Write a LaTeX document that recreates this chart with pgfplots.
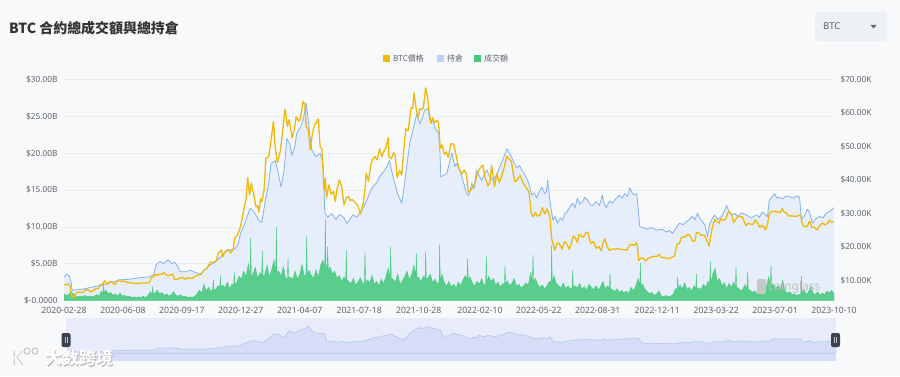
\documentclass[border=0pt]{standalone}
\usepackage{fontspec}
\setmainfont{Noto Sans}
\newfontfamily\cjk{Noto Sans CJK TC}
\newfontfamily\cjksc{Noto Sans CJK SC}
\usepackage{pgfplots}
\pgfplotsset{compat=1.18}
\usepackage{pgfplotstable}
\definecolor{bgc}{HTML}{F8F9FA}
\definecolor{btcy}{HTML}{F0B90B}
\definecolor{oiline}{HTML}{82B2F0}
\definecolor{oifill}{HTML}{E5EEFA}
\definecolor{oileg}{HTML}{BDD0F5}
\definecolor{volg}{HTML}{45C97D}
\definecolor{gridc}{HTML}{ECEEF1}
\definecolor{tickc}{HTML}{5F6368}
\definecolor{sliderbg}{HTML}{E8ECFA}
\definecolor{sliderarea}{HTML}{D6DEF7}
\definecolor{sliderline}{HTML}{B8C5EE}
\definecolor{handlec}{HTML}{3C4350}
\definecolor{ddbg}{HTML}{EDF1F5}
\begin{document}
\pgfplotstableread[row sep=\\]{x y\\
0 3.2\\5 3.6\\9 3.3\\12 2.6\\14 1.4\\24 1.45\\36 1.6\\53 1.9\\67 2.1\\79 2.4\\96 2.8\\113 2.9\\130 3.1\\147 3.2\\154 3.6\\158 4.9\\165 5.3\\171 5.0\\178 5.5\\185 5.0\\190 5.2\\195 4.6\\199 3.9\\207 3.9\\216 4.1\\225 3.8\\233 3.6\\242 4.2\\250 4.8\\259 5.2\\267 5.8\\276 6.6\\285 6.9\\293 7.0\\298 7.6\\303 9.2\\310 10.5\\319 12.5\\326 12.0\\333 11.0\\339 10.6\\345 13.5\\350 15.5\\355 18.6\\362 19.0\\367 17.5\\372 15.4\\377 17.5\\382 22.0\\387 21.3\\391 19.7\\396 21.0\\399 22.7\\405 23.5\\410 24.5\\415 26.8\\418 24.9\\422 22.0\\425 20.4\\432 19.5\\439 20.0\\444 18.6\\446 15.0\\447 11.9\\452 11.3\\459 11.8\\466 11.0\\473 11.7\\480 11.2\\485 10.5\\490 11.0\\495 11.6\\502 11.3\\507 11.9\\514 12.8\\519 13.6\\524 14.6\\529 15.4\\536 16.0\\541 16.8\\548 17.5\\553 18.1\\558 19.0\\564 16.8\\569 15.4\\572 14.5\\579 13.2\\584 16.0\\588 18.6\\593 21.5\\598 23.1\\605 25.4\\610 24.0\\615 24.9\\618 25.8\\624 26.1\\627 24.5\\632 24.5\\636 23.4\\642 22.7\\644 21.0\\646 16.8\\651 17.0\\656 17.2\\661 18.8\\665 20.0\\670 18.2\\673 18.6\\678 17.7\\682 16.8\\687 15.4\\690 14.5\\694 14.3\\699 15.9\\703 15.2\\707 17.7\\712 16.9\\716 16.3\\721 17.2\\725 17.7\\730 16.8\\735 16.3\\741 17.0\\747 18.1\\754 19.5\\759 20.6\\764 20.0\\767 19.5\\772 18.6\\776 18.0\\781 18.3\\786 17.5\\790 17.0\\795 16.3\\802 14.3\\806 14.6\\810 13.9\\815 14.8\\819 15.4\\824 14.5\\827 14.8\\829 16.3\\833 13.6\\838 10.9\\842 11.4\\846 10.5\\851 11.2\\855 10.9\\858 11.8\\862 12.0\\867 12.7\\872 13.2\\876 12.6\\880 13.9\\884 13.1\\889 13.4\\893 14.0\\898 13.6\\902 13.0\\906 12.9\\912 13.4\\918 12.9\\923 14.3\\926 13.1\\930 12.6\\935 13.5\\940 13.2\\946 13.8\\952 14.3\\957 13.9\\961 14.5\\966 14.1\\970 15.3\\974 14.6\\978 14.3\\982 14.5\\987 10.0\\993 9.9\\999 9.7\\1008 9.9\\1016 9.55\\1025 9.7\\1033 9.3\\1038 9.5\\1043 9.1\\1049 9.8\\1055 10.5\\1061 10.3\\1067 10.7\\1072 11.0\\1077 11.4\\1082 11.0\\1086 11.9\\1090 11.1\\1095 10.7\\1099 10.2\\1103 8.7\\1107 10.4\\1110 10.9\\1115 11.6\\1121 11.0\\1127 11.4\\1132 12.1\\1136 12.9\\1140 12.0\\1144 11.6\\1150 11.8\\1155 11.4\\1162 11.9\\1170 11.6\\1178 11.2\\1187 11.6\\1192 11.3\\1197 12.0\\1202 11.7\\1206 11.4\\1209 13.6\\1214 14.1\\1218 14.5\\1222 13.9\\1226 14.0\\1232 13.8\\1238 14.2\\1244 14.1\\1250 13.9\\1256 14.2\\1261 14.0\\1264 10.9\\1270 11.6\\1274 12.4\\1278 12.0\\1283 10.5\\1289 11.1\\1295 11.4\\1301 11.2\\1307 11.9\\1313 12.1\\1320 12.6\\
}\oitable
\pgfplotstableread[row sep=\\]{x y\\
0 8.7\\4 8.8\\8 8.9\\11 7.9\\13 4.9\\15 5.4\\17 5.0\\21 6.2\\25 6.5\\32 6.4\\38 7.3\\43 6.9\\47 6.6\\55 7.5\\60 7.7\\62 8.7\\66 8.9\\70 9.9\\74 8.8\\78 9.7\\82 9.5\\87 8.8\\94 10.2\\98 9.6\\103 9.8\\108 9.4\\113 9.3\\118 9.1\\123 9.15\\128 9.1\\133 9.25\\138 9.2\\143 9.2\\147 9.5\\150 11.0\\154 11.1\\156 11.8\\160 11.5\\164 11.9\\168 11.8\\171 12.3\\175 11.7\\179 11.4\\183 11.7\\186 11.9\\190 10.2\\195 10.4\\200 10.8\\204 10.9\\208 10.25\\212 10.8\\216 10.6\\221 10.7\\225 11.3\\230 11.5\\235 11.9\\240 13.1\\245 13.6\\251 15.5\\256 15.3\\261 16.0\\265 18.3\\270 19.1\\272 17.1\\277 18.8\\282 19.2\\286 18.2\\290 19.4\\293 22.8\\297 23.4\\300 24.7\\303 26.5\\306 29.0\\309 32.0\\312 34.0\\315 40.7\\318 35.5\\321 39.0\\325 35.8\\329 32.0\\332 32.3\\334 30.4\\337 34.3\\339 33.5\\343 37.0\\346 46.4\\351 47.0\\355 52.0\\359 57.5\\362 49.7\\366 45.2\\371 48.8\\375 54.8\\379 61.2\\383 56.0\\386 58.0\\391 52.5\\395 55.1\\398 58.9\\402 57.6\\405 58.0\\410 63.5\\413 62.5\\415 56.0\\419 55.0\\422 49.0\\426 54.0\\430 56.6\\433 57.2\\436 58.2\\439 50.0\\442 49.3\\446 37.0\\448 40.5\\450 34.7\\454 38.5\\458 35.7\\462 36.6\\465 33.5\\468 37.3\\472 40.0\\476 38.1\\480 32.5\\484 34.7\\488 35.0\\491 33.8\\494 34.2\\498 33.5\\502 32.8\\505 31.7\\508 29.8\\512 32.3\\515 35.4\\518 42.0\\522 39.6\\526 44.6\\529 46.2\\533 47.0\\537 46.0\\541 49.3\\545 47.0\\549 48.8\\552 49.9\\556 52.7\\557 46.8\\561 46.3\\565 48.1\\568 47.2\\571 40.7\\575 42.8\\579 41.5\\582 48.2\\586 55.3\\590 54.7\\595 61.6\\598 61.5\\600 66.0\\603 62.0\\607 58.5\\610 61.3\\612 61.0\\616 61.5\\620 67.5\\623 64.8\\626 60.1\\629 56.9\\632 58.6\\635 57.1\\639 57.8\\642 57.2\\645 49.4\\648 50.5\\652 47.6\\655 48.4\\659 46.7\\663 50.8\\668 50.7\\672 47.5\\677 43.5\\682 41.8\\686 43.0\\690 41.7\\693 36.3\\696 36.7\\700 37.7\\704 38.7\\708 41.6\\713 43.5\\718 44.5\\722 40.5\\727 38.3\\730 39.1\\733 44.4\\738 38.0\\742 41.9\\746 39.3\\750 41.0\\755 44.0\\759 47.1\\763 46.3\\767 45.5\\770 42.2\\773 39.5\\777 40.0\\782 41.4\\786 39.5\\789 38.6\\792 37.7\\797 36.5\\801 30.1\\804 29.0\\808 30.3\\812 29.2\\816 29.5\\820 31.7\\824 29.8\\828 31.4\\833 29.1\\836 22.4\\839 20.4\\841 19.0\\845 21.0\\848 21.2\\852 20.1\\854 19.3\\858 21.6\\862 20.9\\866 19.3\\870 21.2\\873 23.2\\877 22.6\\880 21.3\\883 23.8\\887 23.2\\891 22.9\\895 24.3\\898 24.4\\903 21.1\\908 21.6\\912 19.6\\917 20.1\\921 18.8\\924 21.3\\927 22.4\\931 20.2\\935 18.9\\939 19.3\\943 19.4\\946 19.3\\950 19.5\\955 19.2\\960 19.2\\965 19.0\\970 20.6\\974 20.8\\978 20.4\\981 21.3\\983 20.2\\985 15.9\\989 16.7\\993 16.6\\997 15.8\\1001 16.5\\1007 17.0\\1011 17.2\\1016 17.1\\1020 17.8\\1024 16.8\\1030 16.8\\1037 16.5\\1042 16.9\\1047 17.4\\1051 20.9\\1055 21.0\\1058 22.7\\1062 23.0\\1065 23.0\\1069 23.7\\1073 23.4\\1078 21.6\\1082 22.0\\1084 24.3\\1088 24.2\\1092 23.5\\1097 23.6\\1101 22.4\\1106 20.2\\1110 24.7\\1113 26.9\\1116 28.2\\1119 27.5\\1123 27.1\\1126 28.4\\1130 28.0\\1134 28.2\\1138 30.2\\1141 30.5\\1145 29.4\\1148 27.3\\1152 28.3\\1156 29.3\\1160 28.9\\1163 29.0\\1166 27.6\\1169 26.3\\1173 27.1\\1177 26.8\\1181 26.7\\1185 28.0\\1189 27.1\\1193 25.8\\1197 26.5\\1200 25.9\\1203 25.1\\1206 26.8\\1209 30.0\\1213 30.6\\1216 30.5\\1220 30.6\\1224 30.4\\1228 30.3\\1231 31.4\\1235 30.3\\1239 30.1\\1242 29.2\\1246 29.3\\1250 29.2\\1255 29.1\\1259 29.4\\1263 29.4\\1266 26.6\\1270 26.0\\1274 26.1\\1278 27.7\\1282 25.9\\1286 25.9\\1291 25.1\\1295 26.2\\1300 27.2\\1304 26.6\\1308 26.9\\1312 28.0\\1316 27.4\\1320 27.6\\
}\pricetable
\pgfplotstableread[row sep=\\]{x y\\
0 0.9\\4 0.7\\8 0.8\\12 1.2\\16 0.9\\20 0.6\\24 0.5\\28 0.6\\32 0.5\\36 0.7\\40 0.5\\44 0.6\\48 0.5\\52 0.6\\56 0.8\\60 0.6\\64 1.3\\67 1.0\\68 2.2\\69 1.0\\72 1.4\\76 0.9\\80 1.1\\84 0.7\\88 0.9\\92 0.6\\96 1.0\\100 0.6\\104 0.7\\108 0.5\\112 0.6\\116 0.4\\120 0.5\\124 0.4\\128 0.5\\132 0.4\\136 0.6\\140 0.4\\144 0.7\\148 1.2\\151 0.9\\152 1.9\\153 0.9\\156 1.0\\160 1.4\\164 0.9\\168 1.1\\172 0.7\\176 0.9\\180 0.6\\184 0.8\\188 1.2\\192 0.7\\196 0.6\\200 0.8\\204 0.5\\208 0.6\\212 0.4\\216 0.5\\220 0.4\\224 0.6\\228 0.9\\232 1.4\\236 1.0\\240 2.2\\244 1.3\\248 1.8\\252 1.2\\255 1.5\\256 2.8\\257 1.5\\260 1.5\\264 2.0\\267 1.8\\268 3.4\\269 1.8\\272 2.1\\276 1.7\\280 2.5\\284 1.6\\288 2.2\\291 2.2\\292 3.8\\293 2.2\\296 2.4\\300 3.3\\304 2.9\\308 4.0\\312 3.2\\316 5.0\\319 3.2\\320 8.5\\321 3.2\\324 3.6\\328 4.5\\332 3.0\\336 3.8\\339 3.3\\340 6.8\\341 3.3\\344 3.5\\348 4.8\\352 3.2\\356 4.2\\360 5.5\\363 3.8\\364 10.0\\365 3.8\\368 4.0\\372 3.3\\376 4.6\\380 3.0\\383 3.0\\384 5.8\\385 3.0\\388 3.2\\392 2.8\\396 4.0\\400 2.9\\404 3.5\\408 4.9\\412 3.3\\415 3.5\\416 8.7\\417 3.5\\420 4.1\\424 3.4\\428 3.0\\432 4.2\\436 3.1\\440 4.8\\444 5.5\\447 4.5\\448 11.0\\449 5.0\\451 4.0\\452 7.3\\453 4.0\\456 4.6\\460 3.6\\464 4.0\\468 3.0\\472 3.4\\476 2.6\\480 3.2\\483 2.8\\484 6.8\\485 2.8\\488 2.6\\492 2.3\\496 3.0\\500 2.1\\504 2.5\\508 3.1\\512 2.3\\515 2.4\\516 6.6\\517 2.4\\520 2.8\\524 2.4\\528 3.4\\532 2.2\\536 2.6\\540 2.0\\544 2.9\\548 2.3\\552 3.3\\556 4.4\\559 3.0\\560 7.3\\561 3.0\\564 2.9\\568 2.5\\572 3.6\\576 2.2\\580 2.7\\584 3.2\\588 4.0\\592 2.8\\596 3.5\\600 4.8\\603 3.2\\604 6.4\\605 3.2\\608 3.1\\612 2.6\\616 3.3\\619 3.0\\620 6.6\\621 3.0\\624 3.0\\628 3.6\\632 2.4\\636 2.9\\640 2.2\\643 2.6\\644 7.6\\645 2.6\\648 3.6\\652 2.4\\656 2.0\\660 2.6\\664 1.8\\668 2.2\\672 1.7\\676 2.5\\680 2.0\\684 2.8\\688 3.4\\691 2.8\\692 5.7\\693 2.8\\696 3.2\\700 2.4\\704 1.9\\708 2.6\\712 2.2\\716 3.0\\720 2.0\\723 2.4\\724 6.0\\725 2.4\\728 3.3\\732 2.6\\736 3.0\\740 2.1\\744 2.5\\748 1.8\\752 2.3\\755 2.2\\756 4.7\\757 2.2\\760 2.7\\764 2.0\\768 2.4\\772 3.0\\776 1.9\\780 2.2\\784 1.7\\788 2.0\\792 2.4\\796 2.1\\800 3.8\\803 2.5\\804 6.2\\805 2.5\\808 3.0\\812 2.2\\816 1.8\\820 2.1\\824 1.6\\828 2.0\\832 2.6\\835 2.4\\836 7.5\\837 2.4\\840 3.4\\844 2.3\\848 2.0\\852 1.7\\856 2.4\\860 1.6\\864 2.0\\868 1.5\\871 1.8\\872 4.1\\873 1.8\\876 2.0\\880 1.7\\884 2.3\\888 1.5\\892 1.9\\896 1.4\\900 2.2\\904 1.8\\908 1.5\\912 2.0\\916 1.4\\920 1.9\\924 2.6\\928 1.6\\932 2.0\\935 1.6\\936 3.7\\937 1.6\\940 1.5\\944 1.2\\948 1.6\\952 1.1\\956 1.4\\960 1.0\\964 1.3\\968 0.9\\972 1.8\\976 1.3\\980 1.9\\984 3.0\\987 2.0\\988 5.1\\989 2.0\\992 2.2\\996 1.5\\1000 1.2\\1004 0.9\\1008 1.1\\1012 0.7\\1016 0.9\\1020 1.3\\1024 0.6\\1028 0.5\\1032 0.7\\1036 0.5\\1040 0.6\\1044 0.8\\1048 1.6\\1051 1.5\\1052 3.2\\1053 1.5\\1056 2.1\\1060 1.6\\1064 2.4\\1068 1.5\\1072 1.8\\1076 1.3\\1080 2.0\\1083 1.6\\1084 3.6\\1085 1.6\\1088 1.7\\1092 1.5\\1096 2.2\\1100 1.8\\1104 2.6\\1107 2.4\\1108 5.3\\1109 2.4\\1112 3.5\\1116 4.4\\1120 2.6\\1124 3.0\\1128 2.0\\1132 2.4\\1136 1.6\\1140 2.3\\1144 1.8\\1148 2.5\\1151 1.8\\1152 4.6\\1153 1.8\\1156 1.7\\1160 1.3\\1164 1.6\\1168 2.2\\1171 1.5\\1172 3.9\\1173 1.5\\1176 1.4\\1180 1.1\\1184 1.3\\1188 0.9\\1192 1.2\\1196 1.0\\1200 1.4\\1204 1.8\\1208 3.2\\1211 2.0\\1212 4.8\\1213 2.0\\1216 2.2\\1220 1.6\\1224 2.0\\1228 1.4\\1232 2.8\\1236 1.3\\1240 1.0\\1244 1.2\\1248 0.8\\1252 0.9\\1256 0.7\\1260 0.8\\1263 0.9\\1264 3.3\\1265 0.9\\1268 1.5\\1272 0.9\\1276 1.1\\1280 2.0\\1284 1.0\\1288 0.8\\1292 1.2\\1296 0.7\\1300 1.0\\1304 0.8\\1308 1.3\\1312 1.0\\1316 1.4\\1320 0.9\\
}\voltable
\begin{tikzpicture}
\begin{scope}[x=1bp,y=1bp]
\path[use as bounding box, fill=bgc] (0,0) rectangle (900,376);
% title
\node[anchor=west, inner sep=0, font=\cjk\bfseries\fontsize{14}{15}\selectfont, text=black!80] at (9,348) {BTC 合約總成交額與總持倉};
% dropdown
\fill[ddbg, rounded corners=3bp] (815,335) rectangle (887,364);
\node[anchor=west, inner sep=0, font=\fontsize{9.5}{10}\selectfont, text=tickc] at (823,349.5) {BTC};
\fill[black!60] (870.5,351) -- (876.5,351) -- (873.5,347.5) -- cycle;
% legend
\fill[btcy] (383,314) rectangle (390,321);
\node[anchor=west, inner sep=0, font=\cjk\fontsize{8}{9}\selectfont, text=tickc] at (393,317.5) {BTC價格};
\fill[oileg] (437,314) rectangle (444,321);
\node[anchor=west, inner sep=0, font=\cjk\fontsize{8}{9}\selectfont, text=tickc] at (447,317.5) {持倉};
\fill[volg] (474,314) rectangle (481,321);
\node[anchor=west, inner sep=0, font=\cjk\fontsize{8}{9}\selectfont, text=tickc] at (484,317.5) {成交額};
% slider background
\fill[sliderbg] (66,15) rectangle (836,58);
\fill[sliderarea] (66,15) rectangle (836,22.8);
\end{scope}
% main left axis
\begin{axis}[
 at={(64bp,75.5bp)}, anchor=south west, scale only axis,
 width=770bp, height=221bp,
 xmin=0, xmax=1320, ymin=0, ymax=30,
 axis line style={draw=none}, tick style={draw=none},
 xtick={0,101,202,303,404,506,608,713,814,915,1017,1118,1219,1320},
 xticklabels={2020-02-28,2020-06-08,2020-09-17,2020-12-27,2021-04-07,2021-07-18,2021-10-28,2022-02-10,2022-05-22,2022-08-31,2022-12-11,2023-03-22,2023-07-01,2023-10-10},
 ytick={0,5,10,15,20,25,30},
 yticklabels={\$-0.0000,\$5.00B,\$10.00B,\$15.00B,\$20.00B,\$25.00B,\$30.00B},
 ymajorgrids, grid style={gridc, line width=0.5bp},
 xticklabel style={font=\fontsize{8.7}{10}\selectfont, text=tickc, yshift=-3.5bp},
 yticklabel style={font=\fontsize{8.3}{10}\selectfont, text=tickc, xshift=-3bp},
]
\addplot[draw=none, fill=oifill] table {\oitable} \closedcycle;
\addplot[volg, line width=0.35bp, line join=miter, fill=volg, fill opacity=0.88] table {\voltable} \closedcycle;
\addplot[oiline, line width=0.8bp, line join=round] table {\oitable};
\end{axis}
% right axis
\begin{axis}[
 at={(64bp,75.5bp)}, anchor=south west, scale only axis,
 width=770bp, height=221bp,
 xmin=0, xmax=1320, ymin=4.0, ymax=70,
 axis x line=none, axis y line*=right, axis line style={draw=none}, tick style={draw=none},
 ytick={10,20,30,40,50,60,70},
 yticklabels={\$10.00K,\$20.00K,\$30.00K,\$40.00K,\$50.00K,\$60.00K,\$70.00K},
 yticklabel style={font=\fontsize{8.3}{10}\selectfont, text=tickc, xshift=3bp},
]
\addplot[btcy, line width=1.3bp, line join=round] table {\pricetable};
\end{axis}
% slider axis
\begin{axis}[
 at={(66bp,15bp)}, anchor=south west, scale only axis,
 width=770bp, height=43bp,
 xmin=0, xmax=1320, ymin=-7.6, ymax=34.7,
 axis lines=none, xtick=\empty, ytick=\empty,
]
\addplot[sliderline, line width=0.6bp, fill=sliderarea] table {\oitable} \closedcycle;
\end{axis}
\begin{scope}[x=1bp,y=1bp]
% coinglass watermark
\fill[black!22, rounded corners=2bp] (757,82) rectangle (766,97);
\node[anchor=west, inner sep=0, font=\fontsize{12}{12}\selectfont, text=black!25] at (768,89) {coinglass};
% handles
\fill[handlec, rounded corners=2bp] (61.5,29) rectangle (70.5,43);
\draw[white!75!black, line width=0.5bp] (65,33) -- (65,39) (67,33) -- (67,39);
\fill[handlec, rounded corners=2bp] (831,29) rectangle (840,43);
\draw[white!75!black, line width=0.5bp] (834.5,33) -- (834.5,39) (836.5,33) -- (836.5,39);
% watermark
\node[anchor=west, inner sep=0, font=\cjksc\bfseries\fontsize{17}{17}\selectfont, text=black!35] at (45.6,17.4) {大数跨境};
\node[anchor=west, inner sep=0, font=\cjksc\bfseries\fontsize{17}{17}\selectfont, text=white] at (45,18) {大数跨境};
\node[anchor=west, inner sep=0, font=\bfseries\fontsize{20}{20}\selectfont, text=black!35] at (10.6,17.4) {K};
\node[anchor=west, inner sep=0, font=\bfseries\fontsize{20}{20}\selectfont, text=white] at (10,18) {K};
\draw[black!35, fill=white, line width=0.6bp] (27,25) circle (3) (35,25) circle (3);
\end{scope}
\end{tikzpicture}
\end{document}
